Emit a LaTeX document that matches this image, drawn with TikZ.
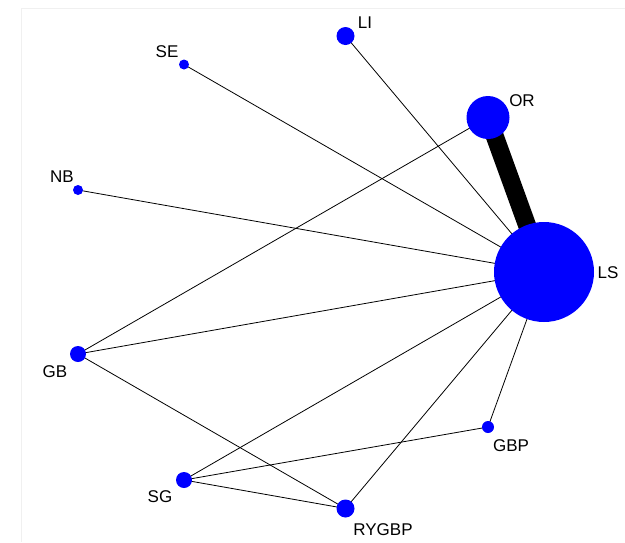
\documentclass[tikz,border=0pt]{standalone}
\usepackage{fontspec}
\setmainfont{Liberation Sans}
\usetikzlibrary{backgrounds}

\begin{document}
\begin{tikzpicture}[x=1pt, y=-1pt, font=\fontsize{17}{20}\selectfont,
		trt/.style={circle, fill=blue, draw=none, inner sep=0pt, minimum size=#1},
		lbl/.style={inner sep=0pt, text=black},
		cmp/.style={draw=black, line width=0.8pt},
		cmpbig/.style={draw=black, line width=18pt}]
		\useasboundingbox (0,0) rectangle (625,542);
		% faint frame
		\draw[black!6, line width=0.8pt] (21,542) -- (21,8) -- (625,8);
		% treatments: name, centre, diameter
		\node[trt=18]  (LI)    at (345.5,36)  {};
		\node[trt=10]  (SE)    at (184,64.5)  {};
		\node[trt=43]  (OR)    at (488,117.5) {};
		\node[trt=10]  (NB)    at (78,190)    {};
		\node[trt=100] (LS)    at (544,272)   {};
		\node[trt=16]  (GB)    at (78,354)    {};
		\node[trt=12]  (GBP)   at (488,427)   {};
		\node[trt=16]  (SG)    at (184,480)   {};
		\node[trt=18]  (RYGBP) at (345.5,508.5) {};
		% labels
		\node[lbl] (LI-t)    at (365,23)    {LI};
		\node[lbl] (SE-t)    at (167,52)    {SE};
		\node[lbl] (OR-t)    at (522,100.5) {OR};
		\node[lbl] (NB-t)    at (62,177)    {NB};
		\node[lbl] (LS-t)    at (608,272.5) {LS};
		\node[lbl] (GB-t)    at (55,372)    {GB};
		\node[lbl] (GBP-t)   at (511,446)   {GBP};
		\node[lbl] (SG-t)    at (160,496.5) {SG};
		\node[lbl] (RYGBP-t) at (383,530)   {RYGBP};
		% comparisons
		\begin{pgfonlayer}{background}
			\draw[cmpbig] (OR.center) -- (LS.center);
			\foreach \a in {LI,SE,NB,GB,GBP,SG,RYGBP}
				\draw[cmp] (\a.center) -- (LS.center);
			\draw[cmp] (GB.center) -- (OR.center);
			\draw[cmp] (GB.center) -- (RYGBP.center);
			\draw[cmp] (SG.center) -- (GBP.center);
			\draw[cmp] (SG.center) -- (RYGBP.center);
		\end{pgfonlayer}
	\end{tikzpicture}
\end{document}
